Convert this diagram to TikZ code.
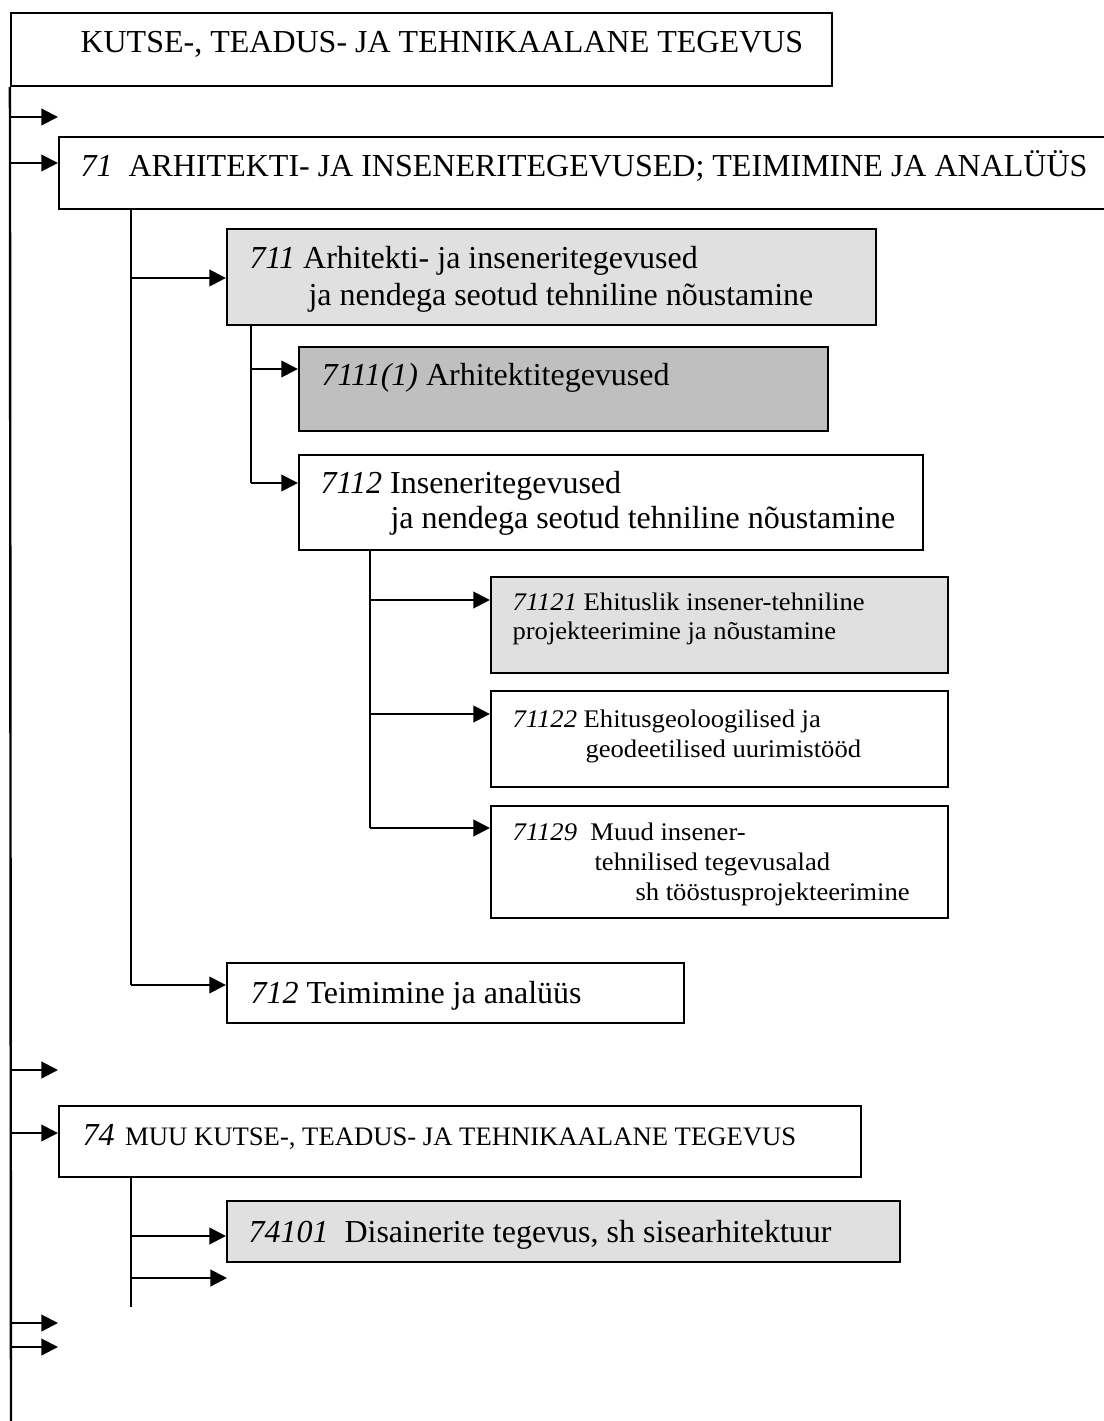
\documentclass[tikz,border=0pt]{standalone}
\usepackage{fontspec}
\setmainfont{Liberation Serif}
\newfontfamily\widefont[FakeStretch=1.05]{Liberation Serif}
\usetikzlibrary{arrows.meta,fit}
\definecolor{lightfill}{gray}{0.88}
\definecolor{darkfill}{gray}{0.75}

\begin{document}
\begin{tikzpicture}[
x=0.375pt, y=-0.375pt,
box/.style={draw, line width=0.8pt, rectangle, inner sep=0pt},
txt/.style={anchor=base west, inner sep=0pt, font=\fontsize{12}{14}\selectfont},
small/.style={anchor=base west, inner sep=0pt, font=\widefont\fontsize{9.5}{11}\selectfont},
line/.style={line width=0.8pt},
arr/.style={line width=0.8pt, -{Triangle[length=6.2pt,width=6.2pt]}}
]
\useasboundingbox (0,0) rectangle (1103,1421);

\node[box, fit={(11,13) (832,86)}] (top) {};
\node[box, fit={(59,137) (1112,209)}] (b71) {};
\node[box, fill=lightfill, fit={(227,229) (876,325)}] (b711) {};
\node[box, fill=darkfill, fit={(299,347) (828,431)}] (b7111) {};
\node[box, fit={(299,455) (923,550)}] (b7112) {};
\node[box, fill=lightfill, fit={(491,577) (948,673)}] (b71121) {};
\node[box, fit={(491,691) (948,787)}] (b71122) {};
\node[box, fit={(491,806) (948,918)}] (b71129) {};
\node[box, fit={(227,963) (684,1023)}] (b712) {};
\node[box, fit={(59,1106) (861,1177)}] (b74) {};
\node[box, fill=lightfill, fit={(227,1201) (900,1262)}] (b74101) {};

\node[txt] (ttop) at (80,53) {KUTSE-, TEADUS- JA TEHNIKAALANE TEGEVUS};
\node[txt] (t71) at (80,177) {\textit{71}\ \ ARHITEKTI- JA INSENERITEGEVUSED; TEIMIMINE JA ANALÜÜS};
\node[txt] (t711a) at (249,269) {\textit{711} Arhitekti- ja inseneritegevused};
\node[txt] (t711b) at (308,306) {ja nendega seotud tehniline nõustamine};
\node[txt] (t7111) at (321,386) {\textit{7111(1)} Arhitektitegevused};
\node[txt] (t7112a) at (320,493) {\textit{7112} Inseneritegevused};
\node[txt] (t7112b) at (390,528) {ja nendega seotud tehniline nõustamine};
\node[small] (t71121a) at (512,610) {\textit{71121} Ehituslik insener-tehniline};
\node[small] (t71121b) at (512,639) {projekteerimine ja nõustamine};
\node[small] (t71122a) at (512,727) {\textit{71122} Ehitusgeoloogilised ja};
\node[small] (t71122b) at (585,757) {geodeetilised uurimistööd};
\node[small] (t71129a) at (512,840) {\textit{71129}\ \ Muud insener-};
\node[small] (t71129b) at (594,870) {tehnilised tegevusalad};
\node[small] (t71129c) at (635,900) {sh tööstusprojekteerimine};
\node[txt] (t712) at (250,1003) {\textit{712} Teimimine ja analüüs};
\node[txt] (t74) at (82,1145) {\textit{74}\hspace{4pt}{\fontsize{10}{12}\selectfont MUU KUTSE-, TEADUS- JA TEHNIKAALANE TEGEVUS}};
\node[txt] (t74101) at (248,1242) {\textit{74101}\ \ Disainerite tegevus, sh sisearhitektuur};

\coordinate (mend) at (11,1421);
\draw[line, line width=0.9pt] (top.south west) -- (mend);
\coordinate (m71) at (11,163);
\coordinate (m74) at (11,1133);
\draw[arr] (m71) -- (m71 -| b71.west);
\draw[arr] (m74) -- (m74 -| b74.west);
\foreach \y/\n in {117/a,1070/b,1323/c,1347/d}{
  \coordinate (s\n) at (11,\y);
  \coordinate (e\n) at (58,\y);
  \draw[arr] (s\n) -- (e\n);
}

\coordinate (k711) at (131,278);
\coordinate (k712) at (131,985);
\draw[line] (k712 |- b71.south) -- (k712);
\draw[arr] (k711) -- (k711 -| b711.west);
\draw[arr] (k712) -- (k712 -| b712.west);

\coordinate (k7111) at (251,369);
\coordinate (k7112) at (251,483);
\draw[line] (k7112 |- b711.south) -- (k7112);
\draw[arr] (k7111) -- (k7111 -| b7111.west);
\draw[arr] (k7112) -- (k7112 -| b7112.west);

\coordinate (k71121) at (370,600);
\coordinate (k71122) at (370,714);
\coordinate (k71129) at (370,828);
\draw[line] (k71129 |- b7112.south) -- (k71129);
\draw[arr] (k71121) -- (k71121 -| b71121.west);
\draw[arr] (k71122) -- (k71122 -| b71122.west);
\draw[arr] (k71129) -- (k71129 -| b71129.west);

\coordinate (k74101) at (131,1236);
\coordinate (k74x) at (131,1278);
\coordinate (e74x) at (227,1278);
\coordinate (k74end) at (131,1307);
\draw[line] (k74end |- b74.south) -- (k74end);
\draw[arr] (k74101) -- (k74101 -| b74101.west);
\draw[arr] (k74x) -- (e74x);

\end{tikzpicture}
\end{document}
